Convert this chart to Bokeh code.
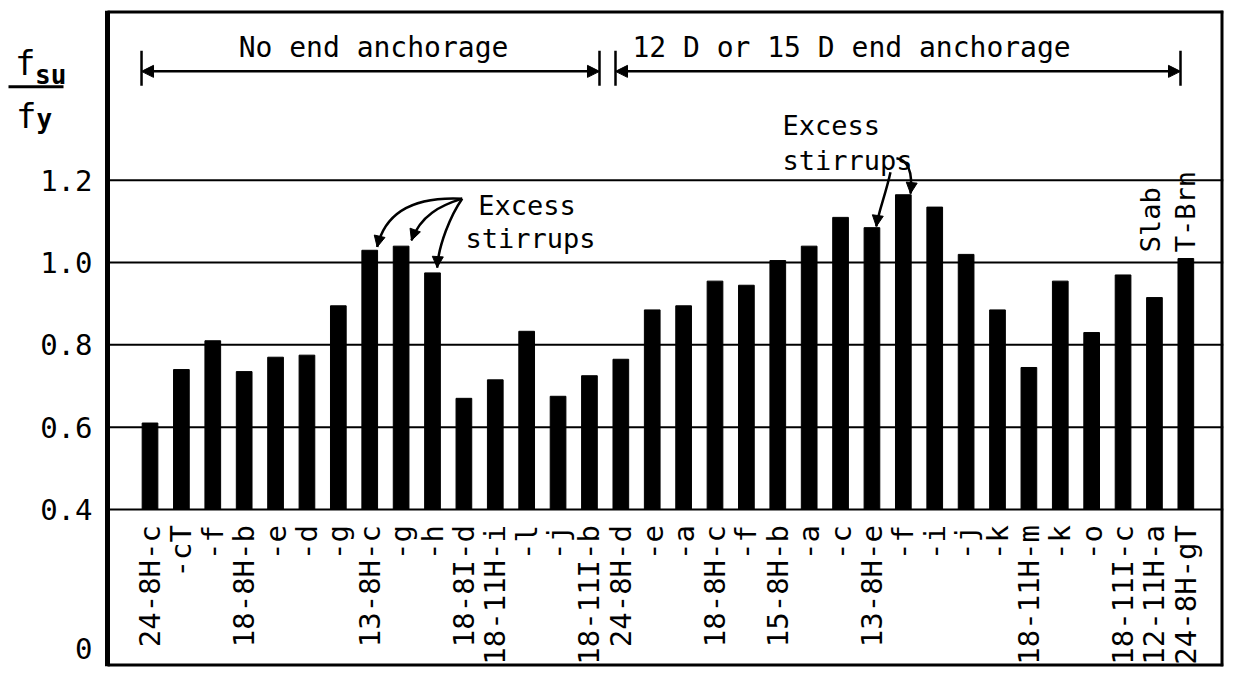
import numpy as np
from bokeh.plotting import figure
from bokeh.models import (ColumnDataSource, FixedTicker, LinearAxis, Arrow, NormalHead, Range1d, Grid)
from bokeh.core.properties import value
from bokeh.embed import file_html
from bokeh.resources import INLINE

# ---- data ----
specimens = ["24-8H-c", "-cT", "-f", "18-8H-b", "-e", "-d", "-g", "13-8H-c", "-g", "-h",
             "18-8I-d", "18-11H-i", "-l", "-j", "18-11I-b", "24-8H-d", "-e", "-a", "18-8H-c", "-f",
             "15-8H-b", "-a", "-c", "13-8H-e", "-f", "-i", "-j", "-k", "18-11H-m", "-k",
             "-o", "18-11I-c", "12-11H-a", "24-8H-gT"]
fsu_fy = [0.61, 0.74, 0.81, 0.735, 0.77, 0.775, 0.895, 1.03, 1.04, 0.975,
          0.67, 0.715, 0.833, 0.675, 0.725, 0.765, 0.885, 0.895, 0.955, 0.945,
          1.005, 1.04, 1.11, 1.085, 1.165, 1.135, 1.02, 0.885, 0.745, 0.955,
          0.83, 0.97, 0.915, 1.01]
y_ticks = [0.062, 0.4, 0.6, 0.8, 1.0, 1.2]
y_tick_labels = ["0", "0.4", "0.6", "0.8", "1.0", "1.2"]
grid_values = [0.4, 0.6, 0.8, 1.0, 1.2]
bar_base = 0.4

FONT = "DejaVu Sans Mono"
X0, X1 = -4.763, 34.2        # full drawing area (left part holds the axis labels)
AX = -1.354                  # position of the left axis line
Y0, Y1 = 0.018, 1.613

idx = list(range(len(specimens)))
src = ColumnDataSource(dict(x=idx, top=fsu_fy, label=specimens))

p = figure(width=1225, height=668, output_backend="svg", toolbar_location=None,
           x_range=Range1d(X0, X1), y_range=Range1d(Y0, Y1),
           x_axis_location=None, y_axis_location=None, title=None,
           min_border_left=0, min_border_right=2, min_border_top=10, min_border_bottom=2)
p.background_fill_color = "white"
p.border_fill_color = "white"
p.outline_line_color = None
for g in p.select(type=Grid):
    g.visible = False

# y axis, fixed at the left edge of the boxed plot area
ax = LinearAxis(fixed_location=AX)
ax.ticker = FixedTicker(ticks=y_ticks)
ax.major_label_overrides = {t: l for t, l in zip(y_ticks, y_tick_labels)}
ax.major_label_text_font = FONT
ax.major_label_text_font_size = "29px"
ax.major_label_text_color = "black"
ax.major_label_standoff = 9
ax.major_tick_line_color = None
ax.minor_tick_line_color = None
ax.axis_line_color = "black"
ax.axis_line_width = 5
p.add_layout(ax, "left")

# horizontal reference lines and box border
p.segment(x0=AX, y0=grid_values, x1=X1, y1=grid_values, line_color="black", line_width=2)
p.segment(x0=[AX, AX, X1], y0=[Y1, Y0, Y0], x1=[X1, X1, X1], y1=[Y1, Y0, Y1],
          line_color="black", line_width=6)

# bars
p.vbar(x="x", top="top", bottom=bar_base, width=0.5, source=src,
       fill_color="black", line_color="black")

# category labels (rotated, top-aligned under the 0.4 line)
p.text(x="x", y=0.362, text="label", source=src, angle=np.pi / 2,
       text_align="right", text_baseline="middle",
       text_font=value(FONT), text_font_size="29px", text_color="black")

# ---- top brackets ----
TXT = dict(text_font=value(FONT), text_color="black", text_baseline="middle")
p.text(x=[7.12, 22.35], y=[1.522, 1.522],
       text=["No end anchorage", "12 D or 15 D end anchorage"],
       text_align="center", text_font_size="28px", **TXT)
for xs, xe in [(-0.27, 14.32), (14.83, 32.83)]:
    p.add_layout(Arrow(x_start=xs, y_start=1.465, x_end=xe, y_end=1.465, line_width=2.5,
                       start=NormalHead(size=12, fill_color="black", line_color="black"),
                       end=NormalHead(size=12, fill_color="black", line_color="black")))
p.segment(x0=[-0.27, 14.32, 14.83, 32.83], y0=[1.43] * 4,
          x1=[-0.27, 14.32, 14.83, 32.83], y1=[1.515] * 4,
          line_color="black", line_width=2.5)

# ---- "Excess stirrups" annotations ----
p.text(x=[10.46, 10.05], y=[1.139, 1.059], text=["Excess", "stirrups"],
       text_align="left", text_font_size="27px", **TXT)
p.text(x=[20.15, 20.15], y=[1.334, 1.249], text=["Excess", "stirrups"],
       text_align="left", text_font_size="27px", **TXT)

curves = [
    # x0, y0, cx0, cy0, cx1, cy1, x1, y1
    (9.946, 1.1555, 8.458, 1.161, 7.502, 1.127, 7.238, 1.038),
    (9.946, 1.1555, 9.255, 1.139, 8.617, 1.115, 8.331, 1.054),
    (9.946, 1.1555, 9.573, 1.115, 9.19, 1.042, 9.149, 0.988),
    (23.59, 1.2195, 23.43, 1.1635, 23.2, 1.122, 23.14, 1.088),
    (23.78, 1.2535, 24.23, 1.2486, 24.29, 1.212, 24.23, 1.168),
]
p.bezier(x0=[c[0] for c in curves], y0=[c[1] for c in curves],
         cx0=[c[2] for c in curves], cy0=[c[3] for c in curves],
         cx1=[c[4] for c in curves], cy1=[c[5] for c in curves],
         x1=[c[6] for c in curves], y1=[c[7] for c in curves],
         line_color="black", line_width=2.5)
for c in curves:
    p.add_layout(Arrow(x_start=c[4], y_start=c[5], x_end=c[6], y_end=c[7], line_alpha=0,
                       end=NormalHead(size=11, fill_color="black", line_color="black")))

# Slab / T-Brn
p.text(x=[31.87, 33.0], y=[1.025, 1.025], text=["Slab", "T-Brn"], angle=np.pi / 2,
       text_align="left", text_font_size="27px", **TXT)

# ---- y label: f_su / f_y ----
p.text(x=[-4.3, -4.27], y=[1.4845, 1.3556], text=["f", "f"], text_align="left",
       text_font_size="34px", **TXT)
p.text(x=[-3.66, -3.62], y=[1.4553, 1.3483], text=["su", "y"], text_align="left",
       text_font_size="26px", text_font_style="bold", **TXT)
p.segment(x0=-4.508, y0=1.4274, x1=-2.756, y1=1.4274, line_color="black", line_width=3)

open("out.html", "w").write(file_html(p, INLINE))
